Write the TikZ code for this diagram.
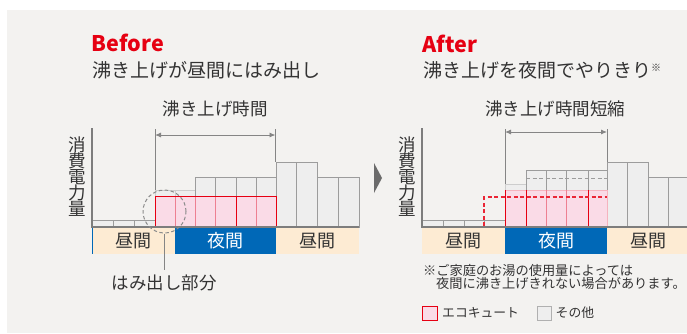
\documentclass[tikz,border=0pt]{standalone}
\usepackage{fontspec}
\setmainfont{Noto Sans CJK JP}
\usetikzlibrary{arrows.meta}
\definecolor{bggray}{HTML}{F3F2F0}
\definecolor{pinkfill}{HTML}{FADBE7}
\definecolor{ecored}{HTML}{E60012}
\definecolor{lightred}{HTML}{EE8092}
\definecolor{barfill}{HTML}{EEEEEE}
\definecolor{barline}{HTML}{9C9C9C}
\definecolor{paleline}{HTML}{CDCDCD}
\definecolor{nightblue}{HTML}{0068B7}
\definecolor{peach}{HTML}{FDEBD3}
\definecolor{txt}{HTML}{333333}
\tikzset{
  graybar/.style={fill=barfill, draw=barline, line width=0.9pt},
  palebar/.style={fill=barfill, draw=paleline, line width=0.9pt},
  pinkbar/.style={fill=pinkfill, draw=none},
  reddiv/.style={draw=ecored, line width=0.9pt},
  lightdiv/.style={draw=lightred, line width=0.9pt},
  axisline/.style={draw=barline!80!black, line width=1.1pt},
  spanarrow/.style={draw=barline!85!black, line width=0.9pt, {Latex[length=6pt,width=5pt]}-{Latex[length=6pt,width=5pt]}},
  guide/.style={draw=barline!85!black, line width=0.9pt},
  bandtext/.style={font=\fontsize{18}{18}\selectfont, inner sep=0},
  lbl/.style={font=\fontsize{17.5}{17.5}\selectfont, text=txt, inner sep=0},
  vlabel/.style={font=\fontsize{17.5}{17.5}\selectfont, text=txt, inner sep=0, align=center},
  headline/.style={font=\fontsize{21.5}{21.5}\selectfont\bfseries, text=ecored, inner sep=0, anchor=west},
  subline/.style={font=\fontsize{19}{19}\selectfont, text=txt, inner sep=0, anchor=west},
  note/.style={font=\fontsize{13.2}{13.2}\selectfont, text=txt, inner sep=0, anchor=west},
  legtext/.style={font=\fontsize{12.8}{12.8}\selectfont, text=txt, inner sep=0, anchor=west},
}
\begin{document}
\begin{tikzpicture}[x=1pt, y=-1pt]
\useasboundingbox (0,0) rectangle (687,333);
\fill[white] (0,0) rectangle (687,333);
\fill[bggray] (6.5,9.7) rectangle (687,333);

% ================= BEFORE =================
\node[headline] (beforeT) at (91.5,43) {Before};
\node[subline] (beforeS) at (92,70) {沸き上げが昼間にはみ出し};

% gray bars
\foreach \a/\b in {92/113,113/134,134/155} \draw[graybar] (\a,220) rectangle (\b,227);
\foreach \a/\b in {155/175,175/195} \draw[palebar] (\a,190) rectangle (\b,227);
\foreach \a/\b in {195/215,215/236,236/256,256/276} \draw[graybar] (\a,177) rectangle (\b,227);
\foreach \a/\b in {276/296,296/317} \draw[graybar] (\a,162) rectangle (\b,227);
\foreach \a/\b in {317/338,338/359} \draw[graybar] (\a,177) rectangle (\b,227);
% pink bars
\fill[pinkbar] (155,196) rectangle (276,227);
\foreach \xx in {175,195,215,256} \draw[lightdiv] (\xx,196) -- (\xx,227);
\draw[reddiv] (236,196) -- (236,227);
\draw[reddiv] (155,227) -- (155,196) -- (276,196) -- (276,227);
% axes
\draw[axisline] (92,128) -- (92,227) -- (359,227);
% bands
\fill[peach] (92,227.5) rectangle (175,254);
\fill[nightblue] (175,227.5) rectangle (276,254);
\fill[peach] (276,227.5) rectangle (359,254);
\draw[nightblue, line width=0.8pt] (92,227.5) -- (92,254);
\node[bandtext, text=txt] (bday1) at (133.5,241) {昼間};
\node[bandtext, text=white] (bnight) at (225.5,241) {夜間};
\node[bandtext, text=txt] (bday2) at (317.5,241) {昼間};
% span arrow
\coordinate (bl) at (155,135);
\coordinate (br) at (275.5,135);
\draw[guide] (155,129) -- (155,190);
\draw[guide] (275.5,129) -- (275.5,162);
\draw[spanarrow] (bl) -- (br);
\node[lbl] (bspan) at (215,109) {沸き上げ時間};
% y label
\node[vlabel] (bylab) at (77,176.5) {消\\[-1.5pt]費\\[-1.5pt]電\\[-1.5pt]力\\[-1.5pt]量};
% overflow marker
\node[circle, draw=barline!90!black, dashed, dash pattern=on 3.5pt off 2.5pt, line width=1pt, minimum size=43pt, inner sep=0] (ring) at (164.5,211.5) {};
\node[lbl] (overflow) at (164,283) {はみ出し部分};
\draw[guide, line width=1pt] (ring.south) -- (164.5,270);

% chevron
\fill[black!58] (374,163) -- (382,178) -- (374,193) -- cycle;

% ================= AFTER =================
\node[headline] (afterT) at (422.5,44) {After};
\node[subline] (afterS) at (423,70) {沸き上げを夜間でやりきり\raisebox{0.55ex}{\fontsize{10}{10}\selectfont ※}};

\begin{scope}
\clip (400,100) rectangle (687,260);
\foreach \a/\b in {422/443,443/464,464/484,484/505} \draw[graybar] (\a,220) rectangle (\b,227);
\draw[palebar] (505,184) rectangle (526,227);
\foreach \a/\b in {526/546,546/566,566/588,588/607} \draw[graybar] (\a,170) rectangle (\b,227);
\draw[barline, dashed, dash pattern=on 4pt off 2.5pt, line width=1pt] (526,178) -- (607,178);
\foreach \a/\b in {607/627,627/648} \draw[graybar] (\a,162) rectangle (\b,227);
\foreach \a/\b in {648/668,668/689} \draw[graybar] (\a,177) rectangle (\b,227);
% pink
\fill[pinkbar] (505,190) rectangle (607,227);
\draw[draw=lightred!60, line width=0.8pt] (505,190) -- (607,190) -- (607,227);
\foreach \xx in {546,566} \draw[lightdiv] (\xx,190) -- (\xx,227);
\foreach \xx in {505,526,588} \draw[reddiv] (\xx,190) -- (\xx,227);
\draw[ecored!85, dashed, dash pattern=on 4pt off 2.5pt, line width=1.2pt] (484,226) -- (484,197) -- (607,197);
% axes
\draw[axisline] (422,128) -- (422,227) -- (689,227);
% bands
\fill[peach] (422,227.5) rectangle (505,254);
\fill[nightblue] (505,227.5) rectangle (607,254);
\fill[peach] (607,227.5) rectangle (689,254);
\end{scope}
\node[bandtext, text=txt] (aday1) at (463.5,241) {昼間};
\node[bandtext, text=white] (anight) at (556,241) {夜間};
\node[bandtext, text=txt] (aday2) at (648,241) {昼間};
% span arrow
\coordinate (al) at (505,132);
\coordinate (ar) at (607,132);
\draw[guide] (505,129) -- (505,184);
\draw[guide] (607,129) -- (607,162);
\draw[spanarrow] (al) -- (ar);
\node[lbl] (aspan) at (555,109) {沸き上げ時間短縮};
\node[vlabel] (aylab) at (407,176.5) {消\\[-1.5pt]費\\[-1.5pt]電\\[-1.5pt]力\\[-1.5pt]量};

% note
\node[note] (note1) at (423,270.8) {※ご家庭のお湯の使用量によっては};
\node[note] (note2) at (436,283.6) {夜間に沸き上げきれない場合があります。};
% legend
\draw[fill=pinkfill, draw=ecored, line width=0.9pt] (422.5,306) rectangle (437,320.5);
\node[legtext] (leg1) at (442,313) {エコキュート};
\draw[fill=barfill, draw=barline!80, line width=0.9pt] (537,306) rectangle (551.5,320.5);
\node[legtext] (leg2) at (555.5,313) {その他};
\end{tikzpicture}
\end{document}
